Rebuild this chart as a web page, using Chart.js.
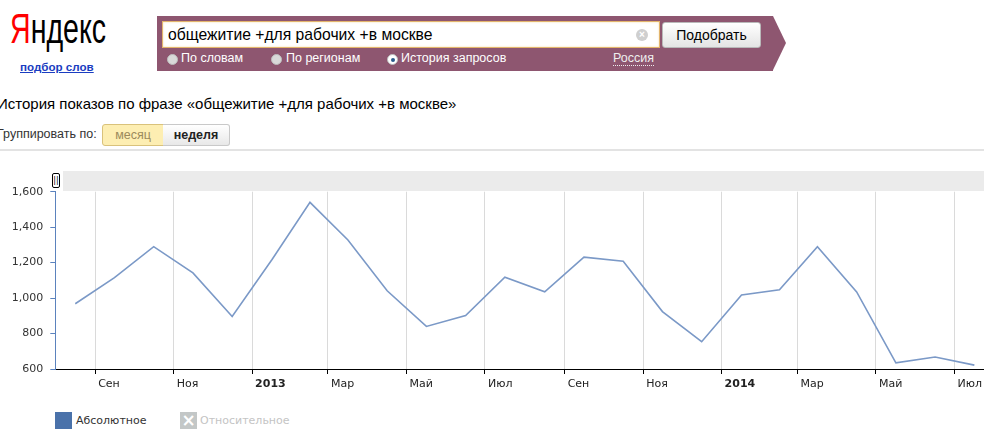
<!DOCTYPE html>
<html lang="ru">
<head>
<meta charset="utf-8">
<script src="https://cdn.jsdelivr.net/npm/chart.js@4.4.1/dist/chart.umd.min.js"></script>
<style>
  body { margin: 0; width: 984px; height: 446px; overflow: hidden; background: #fff; font-family: Arial, "Liberation Sans", sans-serif; position: relative; }
  .abs { position: absolute; }
  .logo { left: 10px; top: 5px; font-family: "Liberation Sans", Arial, sans-serif; font-size: 42px; color: #000; transform: scaleX(0.68); transform-origin: left top; white-space: nowrap; }
  .logo span { color: #f00; }
  .podbor { left: 20px; top: 60px; font-size: 11.6px; font-weight: bold; color: #1a3dc1; text-decoration: underline; }
  .bar { left: 157px; top: 16px; width: 616px; height: 55px; background: #8e5670; }
  .arrow { left: 773px; top: 16px; width: 0; height: 0; border-top: 27.5px solid transparent; border-bottom: 27.5px solid transparent; border-left: 13px solid #8e5670; }
  .input { left: 162px; top: 21px; width: 491px; height: 25px; background: #fff; border: 1px solid #e2b46c; box-shadow: inset 0 0 2px #f3d9a0; font-size: 15.7px; line-height: 25px; padding-left: 5px; box-sizing: content-box; }
  .clear { left: 636px; top: 29px; width: 12px; height: 12px; border-radius: 50%; background: #cfcfcf; color: #fff; font-size: 10px; line-height: 12px; text-align: center; font-weight: bold; }
  .btn { left: 662px; top: 22px; width: 97px; height: 24px; border: 1px solid #b9b9b9; border-radius: 3px; background: linear-gradient(#ffffff, #e4e4e4); font-size: 14px; line-height: 24px; text-align: center; color: #000; }
  .radio { top: 54px; width: 9px; height: 9px; border-radius: 50%; background: #d9d9d9; border: 1px solid #bdbdbd; }
  .radio.on { background: #fff; }
  .radio.on::after { content: ""; position: absolute; left: 2.5px; top: 2.5px; width: 4px; height: 4px; border-radius: 50%; background: #2a5a8c; }
  .rlabel { top: 51px; font-size: 12.5px; color: #fff; }
  .russia { left: 613px; top: 51px; font-size: 12.5px; color: #eee; border-bottom: 1px dotted #eee; line-height: 14px; }
  .title { left: -3px; top: 95px; font-size: 15px; color: #000; white-space: nowrap; }
  .group { left: -3px; top: 127px; font-size: 12.5px; color: #333; }
  .seg { top: 124px; height: 20px; font-size: 12.5px; line-height: 20px; text-align: center; border: 1px solid #c9c9c9; }
  .seg.on { left: 102px; width: 60px; background: #fdeeb2; border-color: #d9c27b; color: #9b8a5c; border-radius: 3px 0 0 3px; }
  .seg.off { left: 163px; width: 66px; background: linear-gradient(#ffffff, #e8e8e8); font-weight: bold; color: #222; border-left: none; border-radius: 0 3px 3px 0; }
  .sep { left: 0; top: 149px; width: 984px; height: 2px; background: #e3e3e3; }
  .band { left: 63px; top: 171px; width: 921px; height: 20px; background: #ebebeb; }
  .handle { left: 52px; top: 173px; width: 6px; height: 13px; border: 1px solid #000; border-radius: 2px; background: #fff; font-size: 8px; line-height: 13px; text-align: center; font-family: "DejaVu Sans", sans-serif; }
  .chart { left: 0; top: 170px; width: 984px; height: 223px; }
  .leg-box { left: 55px; top: 412px; width: 17px; height: 17px; background: #4a72aa; }
  .leg-box.off { left: 180px; background: #c3c7c7; color: #fff; font-size: 17px; line-height: 17px; text-align: center; font-family: "DejaVu Sans", sans-serif; font-weight: bold; }
  .leg-text { top: 414px; font-family: "DejaVu Sans", Verdana, sans-serif; font-size: 11px; color: #333; }
</style>
</head>
<body>
<div class="abs logo"><span>Я</span>ндекс</div>
<div class="abs podbor">подбор слов</div>
<div class="abs bar"></div>
<div class="abs arrow"></div>
<div class="abs input">общежитие +для рабочих +в москве</div>
<div class="abs clear">×</div>
<div class="abs btn">Подобрать</div>
<div class="abs radio" style="left:167px"></div>
<div class="abs rlabel" style="left:181px">По словам</div>
<div class="abs radio" style="left:271px"></div>
<div class="abs rlabel" style="left:286px">По регионам</div>
<div class="abs radio on" style="left:387px"></div>
<div class="abs rlabel" style="left:401px">История запросов</div>
<div class="abs russia">Россия</div>
<div class="abs title">История показов по фразе «общежитие +для рабочих +в москве»</div>
<div class="abs group">Группировать по:</div>
<div class="abs seg on">месяц</div>
<div class="abs seg off">неделя</div>
<div class="abs sep"></div>
<div class="abs band"></div>
<div class="abs handle">||</div>
<div class="abs chart"><canvas id="grafico"></canvas></div>
<div class="abs leg-box"></div>
<div class="abs leg-text" style="left:76px">Абсолютное</div>
<div class="abs leg-box off">×</div>
<div class="abs leg-text" style="left:200px;color:#c4c4c4">Относительное</div>

<script>
const meses = [
  "2012-08", "2012-09", "2012-10", "2012-11", "2012-12",
  "2013-01", "2013-02", "2013-03", "2013-04", "2013-05", "2013-06", "2013-07",
  "2013-08", "2013-09", "2013-10", "2013-11", "2013-12",
  "2014-01", "2014-02", "2014-03", "2014-04", "2014-05", "2014-06", "2014-07",
];
const pokazy = [
  968, 1115, 1290, 1142, 896,
  1218, 1540, 1328, 1041, 840, 902, 1118,
  1035, 1231, 1208, 924, 754,
  1018, 1047, 1290, 1035, 635, 668, 622,
];
const mesesTicks = [
  "2012-09", "2012-11", "2013-01", "2013-03", "2013-05", "2013-07",
  "2013-09", "2013-11", "2014-01", "2014-03", "2014-05", "2014-07",
];
const etiquetasTicks = [
  "Сен", "Ноя", "2013", "Мар", "Май", "Июл",
  "Сен", "Ноя", "2014", "Мар", "Май", "Июл",
];
const yMin = 600;
const yMax = 1600;
const yPaso = 200;
const diasFin = 722;

const inicio = Date.UTC(2012, 7, 1);

function diasDesde(ym) {
  const [anio, mes] = ym.split("-").map(Number);
  return (Date.UTC(anio, mes - 1, 1) - inicio) / 864e5;
}

function mitadMes(ym) {
  const [anio, mes] = ym.split("-").map(Number);
  const largo = (Date.UTC(anio, mes, 1) - Date.UTC(anio, mes - 1, 1)) / 864e5;
  return diasDesde(ym) + largo / 2;
}

const puntos = meses.map((m, i) => ({ x: mitadMes(m), y: pokazy[i] }));
const ticksX = mesesTicks.map(diasDesde);

const fuente = "'DejaVu Sans', Verdana, sans-serif";

new Chart(document.getElementById("grafico"), {
  type: "line",
  data: {
    datasets: [
      {
        label: "Абсолютное",
        data: puntos,
        borderColor: "#7b99c7",
        borderWidth: 1.6,
        pointRadius: 0,
        tension: 0,
        fill: false,
      },
    ],
  },
  options: {
    responsive: true,
    maintainAspectRatio: false,
    animation: false,
    layout: { padding: { top: 21.7, right: 0, left: 0, bottom: 0 } },
    plugins: {
      legend: { display: false },
      tooltip: { enabled: false },
    },
    scales: {
      x: {
        type: "linear",
        min: 0,
        max: diasFin,
        afterBuildTicks: (axis) => {
          axis.ticks = ticksX.map((v) => ({ value: v }));
        },
        afterFit: (scale) => {
          scale.height = 24;
        },
        grid: {
          color: "#dadada",
          tickColor: "#000",
          tickLength: 5,
        },
        border: { color: "#000", width: 1 },
        ticks: {
          autoSkip: false,
          maxRotation: 0,
          align: "start",
          labelOffset: 3,
          padding: 4,
          color: "#222",
          font: (ctx) => ({
            family: fuente,
            size: 11,
            weight: /^\d+$/.test(etiquetasTicks[ctx.index] || "") ? "bold" : "normal",
          }),
          callback: (valor, indice) => etiquetasTicks[indice],
        },
      },
      y: {
        min: yMin,
        max: yMax,
        afterFit: (scale) => {
          scale.width = 55.3;
        },
        grid: {
          drawOnChartArea: false,
          tickColor: "#5b82bd",
          tickLength: 5,
        },
        border: { color: "#5b82bd", width: 1 },
        ticks: {
          stepSize: yPaso,
          padding: 7,
          color: "#333",
          font: { family: fuente, size: 11 },
          callback: (valor) => valor.toLocaleString("en-US"),
        },
      },
    },
  },
});
</script>
</body>
</html>
